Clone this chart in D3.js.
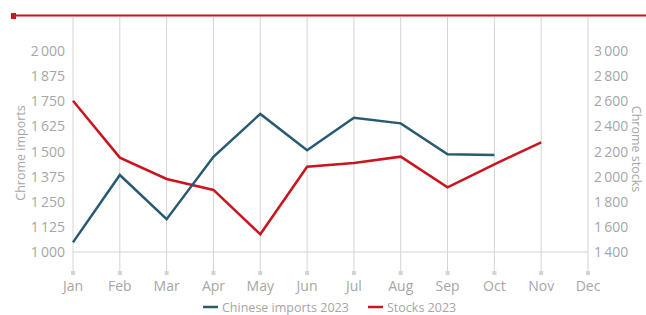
<!DOCTYPE html>
<html>
<head>
<meta charset="utf-8">
<script src="https://cdn.jsdelivr.net/npm/d3@7"></script>
<style>
  body { margin: 0; background: #fff; }
  svg text { font-family: "Open Sans", sans-serif; fill: #a6a6a6; }
</style>
</head>
<body>
<svg id="chart"></svg>
<script>
const months = ['Jan', 'Feb', 'Mar', 'Apr', 'May', 'Jun', 'Jul', 'Aug', 'Sep', 'Oct', 'Nov', 'Dec']
const imports2023 = [1048, 1383, 1163, 1474, 1687, 1506, 1668, 1640, 1486, 1483]
const stocks2023 = [2604, 2151, 1981, 1894, 1541, 2079, 2109, 2159, 1915, 2098, 2273]
const leftTicks = [1000, 1125, 1250, 1375, 1500, 1625, 1750, 1875, 2000]
const rightTicks = [1400, 1600, 1800, 2000, 2200, 2400, 2600, 2800, 3000]
const seriesNames = ['Chinese imports 2023', 'Stocks 2023']
const colors = ['#285a72', '#c8151f']

const width = 646
const height = 315
const margin = { top: 17, left: 73, right: 58, bottom: 63 }
const fmt = v => d3.format(',')(v).replace(',', '\u2009')

const svg = d3.select('#chart')
    .attr('width', width)
    .attr('height', height)

const x = d3.scalePoint()
    .domain(months)
    .range([margin.left, width - margin.right])

const yLeft = d3.scaleLinear()
    .domain([1000, 2000])
    .range([252, 51])

const yRight = d3.scaleLinear()
    .domain([1400, 3000])
    .range([252, 51])

// vertical grid + tick squares
svg.append('g')
    .selectAll('line')
    .data(months)
    .enter()
    .append('line')
    .attr('x1', d => x(d))
    .attr('x2', d => x(d))
    .attr('y1', margin.top)
    .attr('y2', 274)
    .attr('stroke', '#d4d4d4')
    .attr('stroke-width', 1)

svg.append('g')
    .selectAll('rect')
    .data(months)
    .enter()
    .append('rect')
    .attr('x', d => x(d) - 2)
    .attr('y', 271)
    .attr('width', 4)
    .attr('height', 4)
    .attr('fill', '#d4d4d4')

// baseline
svg.append('line')
    .attr('x1', x('Jan'))
    .attr('x2', x('Dec'))
    .attr('y1', yLeft(1000))
    .attr('y2', yLeft(1000))
    .attr('stroke', '#d4d4d4')

// top red rule
svg.append('line')
    .attr('x1', 12)
    .attr('x2', width)
    .attr('y1', 15.5)
    .attr('y2', 15.5)
    .attr('stroke', '#c8151f')
    .attr('stroke-width', 2)
svg.append('rect')
    .attr('x', 11)
    .attr('y', 13)
    .attr('width', 5)
    .attr('height', 6)
    .attr('fill', '#c8151f')

// month labels
svg.append('g')
    .selectAll('text')
    .data(months)
    .enter()
    .append('text')
    .attr('x', d => x(d))
    .attr('y', 291)
    .attr('text-anchor', 'middle')
    .style('font-size', '14px')
    .text(d => d)

// left ticks
svg.append('g')
    .selectAll('text')
    .data(leftTicks)
    .enter()
    .append('text')
    .attr('x', 65)
    .attr('y', d => yLeft(d) + 5)
    .attr('text-anchor', 'end')
    .style('font-size', '14px')
    .text(d => fmt(d))

// right ticks
svg.append('g')
    .selectAll('text')
    .data(rightTicks)
    .enter()
    .append('text')
    .attr('x', 594)
    .attr('y', d => yRight(d) + 5)
    .attr('text-anchor', 'start')
    .style('font-size', '14px')
    .text(d => fmt(d))

svg.append('text')
    .attr('transform', 'translate(25,153) rotate(-90)')
    .attr('text-anchor', 'middle')
    .style('font-size', '12.5px')
    .text('Chrome imports')

svg.append('text')
    .attr('transform', 'translate(632,149) rotate(90)')
    .attr('text-anchor', 'middle')
    .style('font-size', '12.5px')
    .text('Chrome stocks')

// lines
const lineLeft = d3.line()
    .x((d, i) => x(months[i]))
    .y(d => yLeft(d))
const lineRight = d3.line()
    .x((d, i) => x(months[i]))
    .y(d => yRight(d))

svg.append('path')
    .datum(stocks2023)
    .attr('d', lineRight)
    .attr('fill', 'none')
    .attr('stroke', colors[1])
    .attr('stroke-width', 2.5)

svg.append('path')
    .datum(imports2023)
    .attr('d', lineLeft)
    .attr('fill', 'none')
    .attr('stroke', colors[0])
    .attr('stroke-width', 2.5)

// legend
const legendX = [203, 368]
const legend = svg.append('g')
    .selectAll('g')
    .data(seriesNames)
    .enter()
    .append('g')
    .attr('transform', (d, i) => `translate(${legendX[i]},307)`)
legend.append('line')
    .attr('x1', 0)
    .attr('x2', 15)
    .attr('stroke', (d, i) => colors[i])
    .attr('stroke-width', 2.5)
legend.append('text')
    .attr('x', 19)
    .attr('y', 5)
    .style('font-size', '12.5px')
    .text(d => d)
</script>
</body>
</html>
